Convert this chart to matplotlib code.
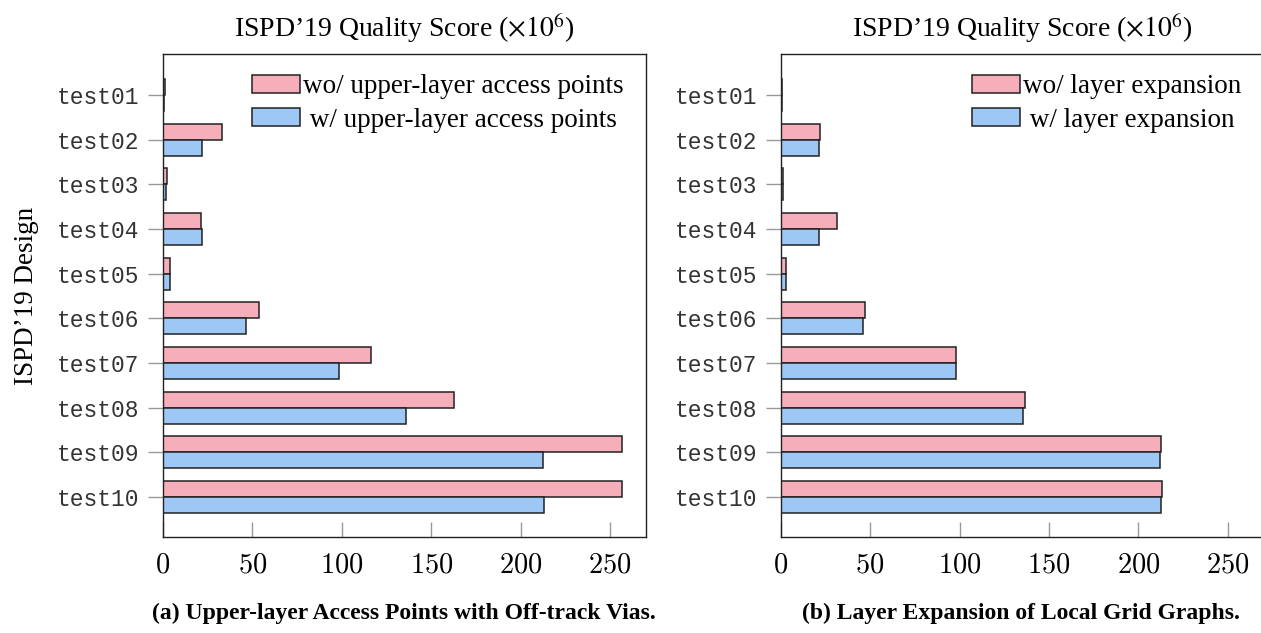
import numpy as np
import matplotlib
matplotlib.use("Agg")
import matplotlib.pyplot as plt
from matplotlib.patches import Patch

# ISPD'19 designs
designs = ["test01", "test02", "test03", "test04", "test05",
           "test06", "test07", "test08", "test09", "test10"]

# (a) upper-layer access points (x1e6)
a_wo = [1.3, 33.0, 2.0, 21.4, 3.7, 53.8, 116.4, 162.7, 256.6, 256.8]
a_w = [0.8, 22.0, 1.5, 22.0, 3.7, 46.5, 98.5, 136.1, 212.7, 213.0]

# (b) layer expansion (x1e6)
b_wo = [0.6, 22.2, 1.1, 31.3, 3.1, 47.2, 98.2, 136.3, 212.7, 212.9]
b_w = [0.6, 21.4, 1.1, 21.2, 3.1, 46.2, 97.9, 135.7, 212.3, 212.5]

xticks = [0, 50, 100, 150, 200, 250]

pink = "#f7aebb"
blue = "#9dc7f5"
edge = "#222222"

W, H = 1261, 633
fig = plt.figure(figsize=(W / 100, H / 100), dpi=100)

serif = ["Liberation Serif", "DejaVu Serif"]


def draw(ax, wo, w, lab_wo, lab_w):
    y = np.arange(len(designs))
    h = 0.358
    ax.barh(y - h / 2, wo, height=h, color=pink, edgecolor=edge, linewidth=1.1)
    ax.barh(y + h / 2, w, height=h, color=blue, edgecolor=edge, linewidth=1.1)
    ax.set_xlim(0, 270)
    ax.set_ylim(9.9, -0.92)
    ax.set_yticks(y)
    ax.set_yticklabels(designs, family=["Liberation Mono", "DejaVu Sans Mono"],
                       fontsize=16.5, color="#333333")
    ax.set_xticks(xticks)
    ax.set_xticklabels([f"${v}$" for v in xticks], fontsize=20.5)
    for t in ax.get_xticklabels():
        t.set_math_fontfamily("cm")
    ax.tick_params(axis="y", direction="out", length=11, width=1, color="#999999", pad=6)
    ax.tick_params(axis="x", direction="in", length=11, width=1, color="#999999", pad=10)
    for s in ax.spines.values():
        s.set_linewidth(1.0)
        s.set_color("#222222")
    t = ax.set_title("ISPD\u201919 Quality Score ($\\times10^6$)", fontsize=20,
                     family=serif, pad=12)
    t.set_math_fontfamily("stix")
    handles = [Patch(facecolor=pink, edgecolor=edge, linewidth=1.1, label=lab_wo),
               Patch(facecolor=blue, edgecolor=edge, linewidth=1.1, label=lab_w)]
    ax.legend(handles=handles, loc="upper right", frameon=False,
              prop={"family": serif, "size": 19.5}, handlelength=1.75,
              handleheight=0.65, handletextpad=0.12, labelspacing=0.3,
              borderaxespad=0.3, bbox_to_anchor=(0.993, 0.997))


ax1 = fig.add_axes([163 / W, 96 / H, 483 / W, 483 / H])
draw(ax1, a_wo, a_w, "wo/ upper-layer access points", " w/ upper-layer access points")
ax1.set_ylabel("ISPD\u201919 Design", family=serif, fontsize=19.5, labelpad=13)

ax2 = fig.add_axes([780.7 / W, 96 / H, 483 / W, 483 / H])
draw(ax2, b_wo, b_w, "wo/ layer expansion", " w/ layer expansion")

fig.text(404 / W, 1 - 613 / H, "(a) Upper-layer Access Points with Off-track Vias.",
         ha="center", va="center", family=serif, fontweight="bold", fontsize=17)
fig.text(1021 / W, 1 - 613 / H, "(b) Layer Expansion of Local Grid Graphs.",
         ha="center", va="center", family=serif, fontweight="bold", fontsize=17)

fig.savefig("out.png", dpi=100)
